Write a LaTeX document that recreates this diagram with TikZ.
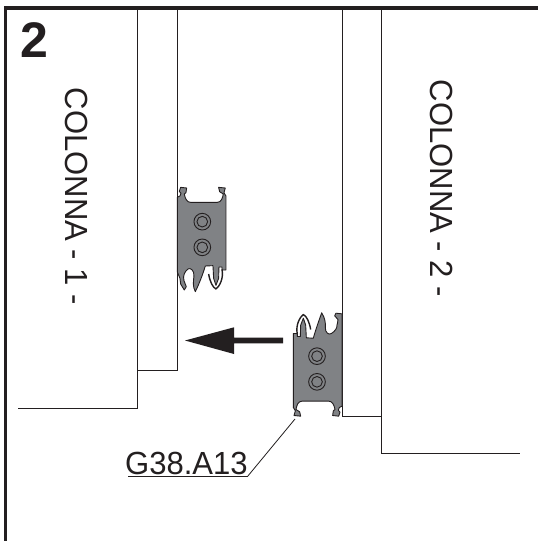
\documentclass[tikz,border=0pt]{standalone}
\usepackage{fontspec}
\usepackage{graphicx}
\setmainfont{Liberation Sans}
\definecolor{ink}{HTML}{231F20}
\definecolor{clipgray}{HTML}{808285}
\tikzset{
  wall/.style={draw=ink,line width=0.9pt},
  frameline/.style={draw=ink,line width=3.4pt},
  clipbody/.style={draw=ink,fill=clipgray,line width=0.9pt,line join=round},
  lab/.style={inner sep=0pt,text=ink,font=\fontsize{32}{32}\selectfont},
}
\newcommand{\stretched}[1]{\scalebox{0.97}[1]{#1}}
\newcommand{\clipshape}[1]{%
  \path[clipbody] (52,82) -- (60,78) -- (63,70) -- (58,64) -- (62,52) -- (80,54) -- (78,68) -- (73,72)
    .. controls (76,88) and (82,97) .. (92,97) -- (172,97)
    .. controls (184,97) and (188,84) .. (190,72) -- (179,65) -- (176,52) -- (196,54) -- (192,68) -- (198,78)
    -- (198,300) -- (186,300) -- (186,291) -- (177,291) -- (176,325) -- (168,346) -- (161,325) -- (159,287)
    #1 -- cycle;
  \draw[ink,line width=1.4pt,line join=round] (186,298) .. controls (192,325) and (178,350) .. (168,357)
     .. controls (158,352) and (150,335) .. (146,312);
  \foreach \cy in {155,232} {
    \draw[ink,line width=0.9pt] (127,\cy) circle (25);
    \draw[ink,line width=0.9pt] (127,\cy) circle (16);
  }
}
\begin{document}
\begin{tikzpicture}[x=1pt,y=-1pt]
\useasboundingbox (0,0) rectangle (538,541);
\path[fill=white] (0,0) rectangle (538,541);
\coordinate (ftl) at (5.7,8);
\coordinate (ftr) at (538,8);
\coordinate (fbl) at (5.7,541);
\draw[frameline] (fbl) -- (ftl) -- (ftr);
% column 1
\coordinate (a1) at (137.5,8); \coordinate (a2) at (137.5,408); \coordinate (a3) at (18,408);
\coordinate (b1) at (177.5,8); \coordinate (b2) at (177.5,370); \coordinate (b3) at (137.5,370);
\draw[wall] (a1) -- (a2) -- (a3);
\draw[wall] (b1) -- (b2) -- (b3);
% column 2
\coordinate (c1) at (342,8); \coordinate (c2) at (342,416); \coordinate (c3) at (381,416);
\coordinate (d1) at (381,8); \coordinate (d2) at (381,453); \coordinate (d3) at (520,453);
\draw[wall] (c1) -- (c2) -- (c3);
\draw[wall] (d1) -- (d2) -- (d3);
% clips
\begin{scope}[shift={(202.3,234.5)},x=0.3333pt,y=-0.3333pt]
\begin{scope}[shift={(-127,-193.5)}]\clipshape{-- (136,288) .. controls (128,315) and (116,345) .. (106,365)
    .. controls (98,350) and (100,335) .. (102,318)
    .. controls (103,302) and (92,292) .. (84,297)
    .. controls (74,304) and (68,318) .. (72,332)
    .. controls (74,340) and (78,345) .. (79,350) -- (73,360) -- (62,342) -- (60,325) -- (52,306)}\end{scope}
\end{scope}
\begin{scope}[shift={(317,369)},x=-0.3333pt,y=0.3333pt]
\begin{scope}[shift={(-127,-193.5)}]\clipshape{-- (138,286) .. controls (130,315) and (120,342) .. (113,362)
    .. controls (104,348) and (101,335) .. (102,318)
    .. controls (103,304) and (92,294) .. (84,300)
    .. controls (74,306) and (66,316) .. (67,325)
    .. controls (68,332) and (62,336) .. (64,342) -- (74,353) -- (70,361) -- (52,359)}\end{scope}
\end{scope}
% arrow
\fill[ink] (283,337.7) -- (234,337.7) -- (234,327.3) -- (185,340.5) -- (234,354) -- (234,343.3) -- (283,343.3) -- cycle;
% labels
\node[lab,font=\fontsize{50}{50}\selectfont\bfseries,anchor=base west] (two) at (20.5,57) {2};
\node[lab,rotate=-90,anchor=center] (col1) at (76.7,196.5) {\stretched{COLONNA - 1 -}};
\node[lab,rotate=-90,anchor=center] (col2) at (442,188.5) {\stretched{COLONNA - 2 -}};
\node[lab,anchor=base west] (g) at (125,474) {\stretched{G38.A13}};
\coordinate (l0) at (128,476.5);
\coordinate (l1) at (247.5,476.5);
\coordinate (l2) at (295,419);
\draw[ink,line width=0.8pt] (l0) -- (l1) -- (l2);
\end{tikzpicture}
\end{document}
